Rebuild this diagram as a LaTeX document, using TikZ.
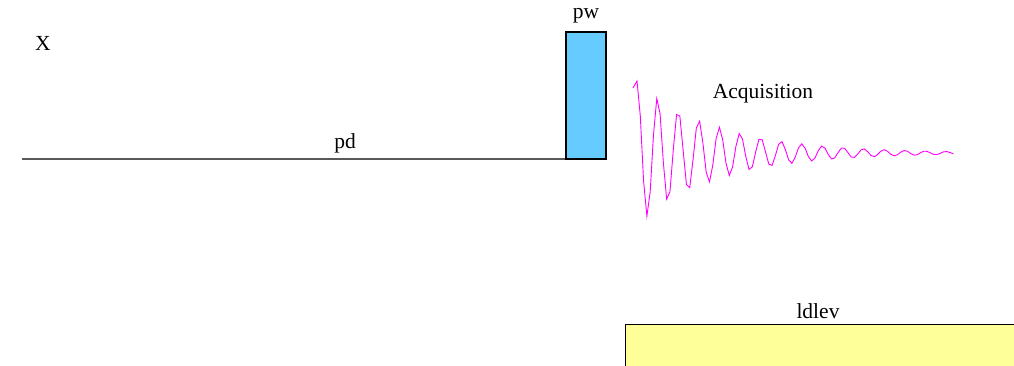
\documentclass[tikz,border=0pt]{standalone}
\usepackage{fontspec}
\setmainfont{Liberation Serif}
\usepackage{tikz}
\definecolor{pulseblue}{HTML}{66CCFF}
\definecolor{lockyellow}{HTML}{FFFF99}
\definecolor{fidpink}{HTML}{FF00FF}

\begin{document}
\begin{tikzpicture}[x=1pt,y=-1pt,
    lbl/.style={font=\fontsize{21.5}{24}\selectfont, inner sep=0pt}]
    \useasboundingbox (0,0) rectangle (1014,366);

    % 通道名称
    \node[lbl] (chan) at (43,43) {X};

    % 延迟 pd
    \draw[gray!70!black, line width=1.2pt] (22,159) -- (566,159);
    \node[lbl] (pd) at (345,143) {pd};

    % 脉冲 pw
    \draw[line width=1.2pt, fill=pulseblue] (566,159) rectangle (606,32);
    \node[lbl] (pw) at (586,16) {pw};

    % 采样 FID（参数 t 以周期计）
    \coordinate (fidstart) at (633,88);
    \draw[fidpink, line width=0.9pt] (fidstart)
        -- plot[domain=0:15.36, samples=97]
        ({637+20.6*\x}, {153-72*exp(-20.6*\x/80)*cos(360*\x)});
    \node[lbl] (acq) at (763,94) {Acquisition};

    % 锁场 ldlev
    \fill[lockyellow] (625.5,324.5) rectangle (1014,366);
    \draw[line width=1pt] (625,366) -- (625,324) -- (1014,324);
    \node[lbl] (ld) at (818,311) {ldlev};
\end{tikzpicture}
\end{document}
